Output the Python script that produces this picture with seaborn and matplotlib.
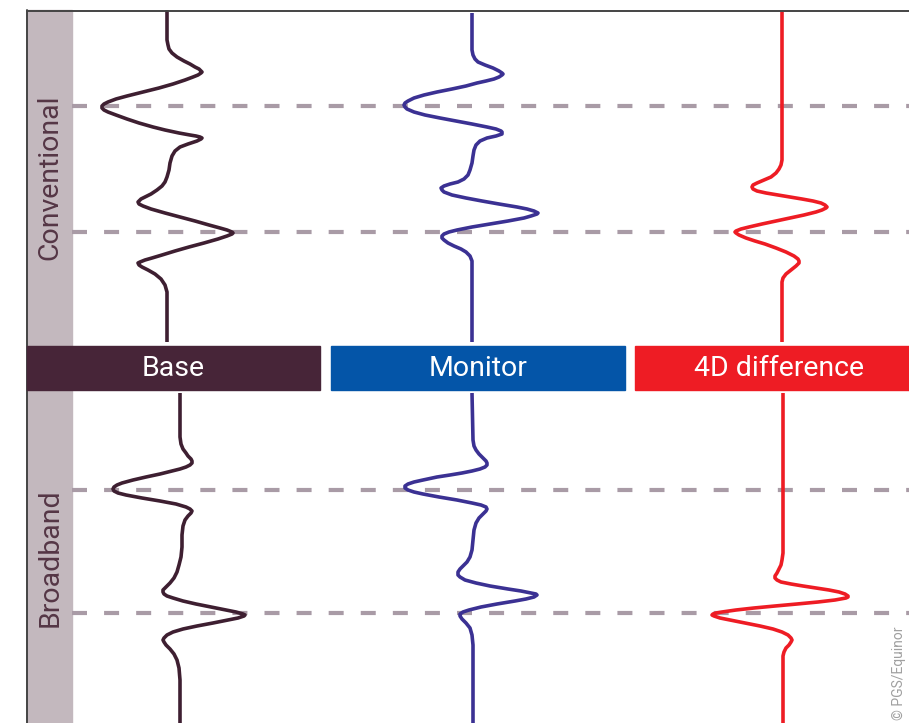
import numpy as np
import pandas as pd
import matplotlib.pyplot as plt
import seaborn as sns
from matplotlib.patches import Rectangle

# seismic traces as (time sample, amplitude offset from trace centre)
base_conv = [(10, 0), (40, 0), (45, 1), (49, 2), (53, 5), (57, 10), (61, 17), (64, 23), (67, 28),
             (69, 32), (71, 34), (72, 35), (73, 34), (75, 31), (77, 26), (80, 18), (84, 6), (88, -8),
             (92, -24), (96, -40), (99, -51), (102, -59), (104, -63), (106, -65), (108, -65),
             (110, -63), (112, -59), (115, -51), (119, -40), (123, -28), (127, -14), (130, -2),
             (133, 12), (135, 23), (136, 29), (137, 33), (138, 35), (139, 34), (141, 30), (144, 21),
             (147, 13), (151, 8), (156, 5), (163, 3), (170, 2), (177, 0), (182, -2), (186, -5),
             (190, -10), (194, -16), (197, -22), (199, -26), (201, -28), (202, -29), (204, -28),
             (206, -24), (209, -16), (213, -2), (217, 13), (221, 28), (225, 42), (228, 53),
             (230, 60), (232, 65), (233, 66), (234, 65), (236, 60), (239, 51), (243, 37), (247, 22),
             (251, 8), (255, -5), (258, -15), (260, -22), (262, -27), (263, -29), (265, -28),
             (267, -25), (270, -19), (274, -12), (279, -6), (285, -2), (292, 0), (342, 0)]

base_bb = [(393, 0), (437, 0), (444, 1), (449, 3), (453, 6), (456, 8), (459, 11), (461, 12),
           (463, 12), (465, 10), (467, 6), (469, 0), (471, -8), (474, -20), (477, -34), (480, -47),
           (483, -58), (485, -63), (487, -66), (489, -67), (491, -66), (493, -62), (495, -54),
           (498, -38), (501, -20), (504, -4), (507, 6), (509, 10), (511, 12), (513, 11), (516, 8),
           (520, 5), (526, 3), (535, 2), (547, 2), (557, 1), (565, -1), (572, -3), (578, -6),
           (583, -10), (587, -14), (590, -17), (592, -17), (594, -16), (596, -13), (598, -7),
           (601, 3), (604, 16), (607, 31), (610, 46), (612, 56), (614, 63), (615, 65), (616, 64),
           (618, 58), (620, 48), (623, 33), (626, 17), (629, 3), (632, -7), (635, -13), (638, -16),
           (640, -17), (642, -16), (645, -14), (649, -10), (654, -6), (660, -3), (668, -1),
           (680, 0), (723, 0)]

mon_conv = [(13, 0), (50, 0), (55, 1), (59, 3), (62, 6), (65, 13), (68, 21), (71, 27), (73, 30),
            (74, 31), (75, 30), (77, 27), (79, 22), (81, 14), (83, 5), (86, -6), (89, -20),
            (92, -35), (95, -48), (98, -58), (101, -64), (103, -67), (105, -68), (107, -67),
            (109, -65), (112, -58), (115, -47), (118, -32), (121, -16), (124, 0), (127, 15),
            (129, 24), (131, 29), (132, 30), (134, 30), (136, 24), (138, 15), (141, 8), (145, 4),
            (150, 2), (156, 1), (163, 0), (170, -2), (175, -4), (179, -8), (182, -14), (184, -22),
            (186, -28), (188, -31), (190, -30), (192, -28), (195, -20), (198, -6), (201, 10),
            (204, 27), (207, 45), (209, 55), (211, 62), (213, 66), (214, 65), (216, 59), (218, 52),
            (221, 36), (224, 18), (227, 0), (230, -15), (232, -23), (234, -28), (236, -30),
            (238, -30), (240, -28), (243, -24), (246, -18), (249, -11), (252, -6), (256, -2),
            (261, 0), (342, 0)]

mon_bb = [(393, -1), (440, 0), (446, 1), (450, 3), (454, 6), (458, 10), (461, 13), (463, 14),
          (465, 14), (467, 12), (469, 7), (471, -1), (473, -11), (475, -23), (477, -36), (480, -50),
          (482, -59), (484, -65), (486, -68), (488, -68), (490, -65), (492, -59), (494, -50),
          (497, -34), (500, -16), (503, -1), (505, 8), (507, 13), (509, 14), (511, 13), (514, 10),
          (518, 6), (523, 3), (530, 1), (540, 0), (550, -1), (557, -3), (562, -6), (566, -10),
          (569, -13), (572, -15), (575, -15), (577, -13), (580, -8), (583, 3), (586, 17), (589, 35),
          (591, 48), (593, 58), (594, 63), (595, 64), (597, 61), (599, 53), (601, 42), (604, 24),
          (607, 8), (610, -4), (612, -10), (614, -13), (616, -13), (619, -11), (623, -7),
          (628, -3), (635, -1), (645, 0), (723, 0)]

diff_conv = [(12, 0), (160, 0), (165, -1), (169, -3), (173, -6), (177, -11), (180, -18),
             (183, -25), (185, -29), (187, -30), (189, -29), (191, -25), (193, -16), (195, -4),
             (197, 8), (199, 20), (201, 31), (203, 39), (205, 43), (207, 45), (208, 44), (210, 40),
             (212, 34), (215, 22), (218, 8), (221, -6), (224, -20), (227, -33), (229, -41),
             (231, -46), (232, -47), (233, -46), (235, -43), (238, -36), (241, -27), (244, -17),
             (248, -6), (252, 4), (256, 12), (259, 16), (261, 17), (263, 17), (266, 14), (270, 9),
             (274, 4), (278, 1), (282, 0), (342, 0)]

diff_bb = [(393, 0), (553, 0), (560, -1), (565, -2), (569, -4), (573, -6), (576, -8), (578, -8),
           (580, -6), (582, -2), (584, 8), (586, 20), (588, 33), (590, 46), (592, 56), (594, 62),
           (596, 65), (597, 65), (598, 63), (600, 52), (602, 35), (604, 14), (606, -8), (608, -29),
           (610, -47), (612, -61), (613, -67), (614, -70), (615, -71), (616, -69), (618, -63),
           (620, -53), (623, -38), (626, -23), (629, -10), (632, -1), (635, 5), (638, 8), (640, 9),
           (642, 8), (645, 6), (648, 3), (652, 1), (656, 0), (723, 0)]

horizons_conv = [106, 232]
horizons_bb = [490, 613]
panels = ["Base", "Monitor", "4D difference"]
rows = ["Conventional", "Broadband"]

sns.set_style("white")
plt.rcParams['font.family'] = ['Roboto', 'DejaVu Sans']

fig = plt.figure(figsize=(9.09, 7.23), dpi=100)
ax = fig.add_axes([0, 0, 1, 1])
ax.set_xlim(0, 909)
ax.set_ylim(723, 0)
ax.axis('off')

# side band + frame
ax.add_patch(Rectangle((27, 10), 45, 713, color='#c3b8be', zorder=1))
ax.plot([27, 27], [10, 723], color='#444444', lw=1.4, zorder=5)
ax.plot([27, 909], [10.5, 10.5], color='#444444', lw=1.4, zorder=5)

# dashed horizons
for h in horizons_conv + horizons_bb:
    ax.plot([72, 909], [h, h], color='#a99ba6', lw=3, ls=(0, (3.6, 4.1)), zorder=2)

traces = [
    (base_conv, 167, '#3e1f31'),
    (base_bb, 180, '#3e1f31'),
    (mon_conv, 472, '#3b3193'),
    (mon_bb, 473, '#3b3193'),
    (diff_conv, 782, '#ee1c24'),
    (diff_bb, 783, '#ee1c24'),
]
for pts, c, col in traces:
    df = pd.DataFrame(pts, columns=['t', 'amp'])
    df['x'] = df['amp'] + c
    sns.lineplot(data=df, x='x', y='t', sort=False, estimator=None, color=col,
                 lw=2.6, ax=ax, zorder=4, solid_joinstyle='round', solid_capstyle='butt')

# header bars
bars = [(27, 320, '#472538', 173.5), (331, 625, '#0455a8', 478), (635, 909, '#ee1c24', 779)]
for (x0, x1, col, xc), name in zip(bars, panels):
    ax.add_patch(Rectangle((x0, 346), x1 - x0, 44, color=col, zorder=6))
    ax.text(xc, 369, name, color='white', fontsize=20.5, ha='center', va='center', zorder=7)

ax.text(50, 177, rows[0], rotation=90, color='#553646', fontsize=20.5,
        ha='center', va='center', zorder=7)
ax.text(50, 558, rows[1], rotation=90, color='#553646', fontsize=20.5,
        ha='center', va='center', zorder=7)

ax.text(899, 720, "© PGS/Equinor", rotation=90, color='#a0a0a0', fontsize=10,
        ha='center', va='bottom', zorder=7)

ax.set_xlabel('')
ax.set_ylabel('')
fig.savefig('out.png', dpi=100)
